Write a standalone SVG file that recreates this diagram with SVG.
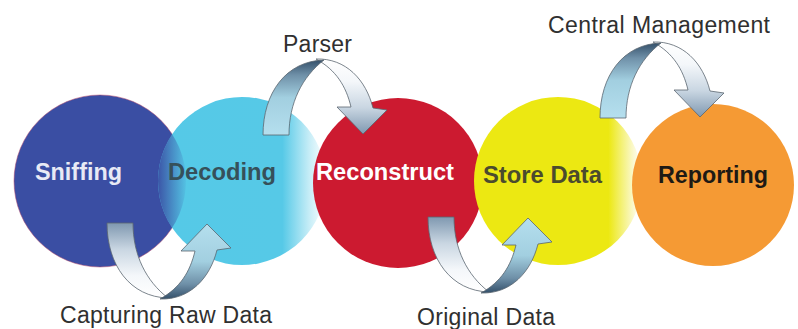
<svg xmlns="http://www.w3.org/2000/svg" xmlns:xlink="http://www.w3.org/1999/xlink" width="798" height="329" viewBox="0 0 798 329">
  <style>
    .node-label { font-family: "Liberation Sans", Arial, sans-serif; font-weight: bold; font-size: 23.5px; text-anchor: middle; }
    .edge-label { font-family: "Liberation Sans", Arial, sans-serif; font-size: 23px; fill: #303030; text-anchor: middle; }
    .arrow-part { stroke: #5a6670; stroke-width: 0.8; stroke-linejoin: round; }
  </style>
  <defs>
    <linearGradient id="gDec" gradientUnits="userSpaceOnUse" x1="158" y1="0" x2="326" y2="0">
      <stop offset="0" stop-color="#55c9e7"/>
      <stop offset="0.74" stop-color="#56c9e7"/>
      <stop offset="0.9" stop-color="#c6edf7"/>
      <stop offset="1" stop-color="#ffffff"/>
    </linearGradient>
    <linearGradient id="gStore" gradientUnits="userSpaceOnUse" x1="474" y1="0" x2="642" y2="0">
      <stop offset="0" stop-color="#ece812"/>
      <stop offset="0.8" stop-color="#ece812"/>
      <stop offset="0.95" stop-color="#fbf9d0"/>
      <stop offset="1" stop-color="#ffffff"/>
    </linearGradient>
    <linearGradient id="gBlueFade" gradientUnits="userSpaceOnUse" x1="156" y1="0" x2="188" y2="0">
      <stop offset="0" stop-color="#3a4ea3" stop-opacity="1"/>
      <stop offset="1" stop-color="#3a4ea3" stop-opacity="0"/>
    </linearGradient>
    <clipPath id="clipDec"><circle cx="242" cy="181" r="84"/></clipPath>
    <linearGradient id="gWhite" x1="0" y1="0" x2="0" y2="1">
      <stop offset="0" stop-color="#7f98b0"/>
      <stop offset="0.35" stop-color="#c9d6e2"/>
      <stop offset="0.7" stop-color="#f4f7fa"/>
      <stop offset="1" stop-color="#ffffff"/>
    </linearGradient>
    <linearGradient id="gBlue" x1="0" y1="0" x2="0" y2="1">
      <stop offset="0" stop-color="#b5dfee"/>
      <stop offset="0.5" stop-color="#a2cfe0"/>
      <stop offset="0.8" stop-color="#6f90a8"/>
      <stop offset="1" stop-color="#34506a"/>
    </linearGradient>
    <path id="legL" d="M0,0 L26,0 C26,32 39,58 61,75 C23,74 0,42 0,0 Z"/>
    <path id="legR" d="M53,76 C83,77 103,55 110,27 L124,25 L100,1 L74,28 L88,28 C83,49 73,65 53,76 Z"/>
  </defs>

  <g id="node-sniffing">
    <circle cx="100" cy="181" r="86" fill="#3a4ea3" stroke="#b5486a" stroke-opacity="0.5" stroke-width="1"/>
  </g>
  <g id="node-decoding">
    <circle cx="242" cy="181" r="84" fill="url(#gDec)"/>
    <g clip-path="url(#clipDec)">
      <circle cx="100" cy="181" r="86" fill="url(#gBlueFade)"/>
    </g>
  </g>
  <g id="node-reconstruct">
    <circle cx="398" cy="183" r="85" fill="#cc1a30"/>
  </g>
  <g id="node-store">
    <circle cx="558" cy="181" r="84" fill="url(#gStore)"/>
  </g>
  <g id="node-reporting">
    <circle cx="713" cy="185" r="81" fill="#f59a34"/>
  </g>

  <g id="node-labels">
    <text class="node-label" x="78.5" y="180" fill="#e8eaf5" textLength="87" lengthAdjust="spacingAndGlyphs">Sniffing</text>
    <text class="node-label" x="222" y="180" fill="#36505a" textLength="108" lengthAdjust="spacingAndGlyphs">Decoding</text>
    <text class="node-label" x="385" y="180" fill="#ffffff" textLength="138" lengthAdjust="spacingAndGlyphs">Reconstruct</text>
    <text class="node-label" x="542.5" y="183" fill="#4b4b2e" textLength="119" lengthAdjust="spacingAndGlyphs">Store Data</text>
    <text class="node-label" x="713" y="183" fill="#1e1a14" textLength="110" lengthAdjust="spacingAndGlyphs">Reporting</text>
  </g>

  <g id="connectors">
    <g id="edge-capturing" transform="translate(107,223)">
      <use xlink:href="#legL" class="arrow-part" fill="url(#gWhite)"/>
      <use xlink:href="#legR" class="arrow-part" fill="url(#gBlue)"/>
    </g>
    <g id="edge-original" transform="translate(428,217)">
      <use xlink:href="#legL" class="arrow-part" fill="url(#gWhite)"/>
      <use xlink:href="#legR" class="arrow-part" fill="url(#gBlue)"/>
    </g>
    <g id="edge-parser" transform="translate(263,135) scale(1,-1)">
      <use xlink:href="#legR" class="arrow-part" fill="url(#gWhite)"/>
      <use xlink:href="#legL" class="arrow-part" fill="url(#gBlue)"/>
    </g>
    <g id="edge-central" transform="translate(600,118) scale(1,-1)">
      <use xlink:href="#legR" class="arrow-part" fill="url(#gWhite)"/>
      <use xlink:href="#legL" class="arrow-part" fill="url(#gBlue)"/>
    </g>
    <text class="edge-label" x="317.5" y="52" textLength="69" lengthAdjust="spacing">Parser</text>
    <text class="edge-label" x="659" y="33" textLength="222" lengthAdjust="spacing">Central Management</text>
    <text class="edge-label" x="166" y="323" textLength="212" lengthAdjust="spacing">Capturing Raw Data</text>
    <text class="edge-label" x="486" y="325" textLength="138" lengthAdjust="spacing">Original Data</text>
  </g>
</svg>
